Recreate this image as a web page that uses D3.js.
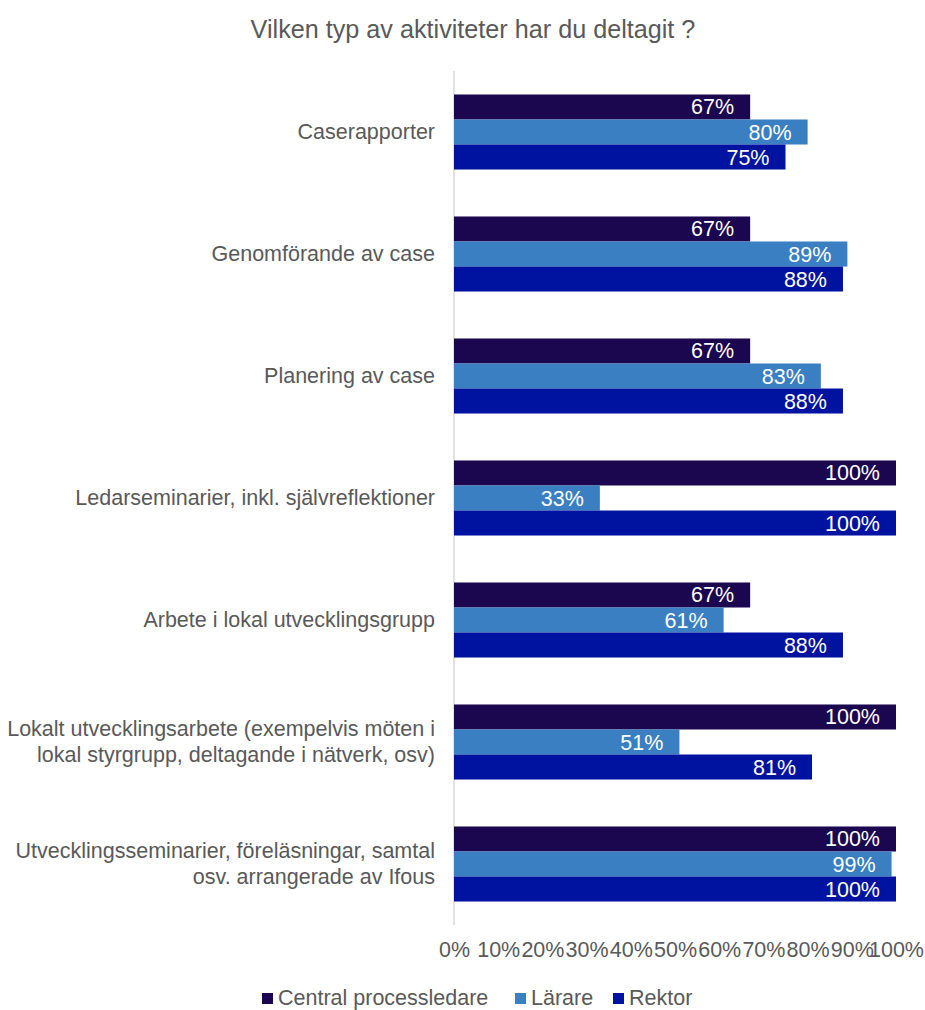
<!DOCTYPE html>
<html><head><meta charset="utf-8">
<script src="https://cdn.jsdelivr.net/npm/d3@7"></script>
<style>body{margin:0;background:#fff;font-family:"Liberation Sans",Arial,sans-serif;}</style>
</head><body><svg id="c" width="925" height="1010"></svg>
<script>
const title = "Vilken typ av aktiviteter har du deltagit ?";
const categories = [
  ["Caserapporter"],
  ["Genomförande av case"],
  ["Planering av case"],
  ["Ledarseminarier, inkl. självreflektioner"],
  ["Arbete i lokal utvecklingsgrupp"],
  ["Lokalt utvecklingsarbete (exempelvis möten i", "lokal styrgrupp, deltagande i nätverk, osv)"],
  ["Utvecklingsseminarier, föreläsningar, samtal", "osv. arrangerade av Ifous"]
];
const seriesNames = ["Central processledare", "Lärare", "Rektor"];
const central = [67, 67, 67, 100, 67, 100, 100];
const larare  = [80, 89, 83, 33, 61, 51, 99];
const rektor  = [75, 88, 88, 100, 88, 81, 100];
const tickValues = [0,10,20,30,40,50,60,70,80,90,100];
const colors = ["#1b0650", "#3a7fc1", "#0012a0"];

const series = [central, larare, rektor];
const FS = 21.5;
const svg = d3.select("#c");
const x = d3.scaleLinear().domain([0,100]).range([454, 896]);
const y = d3.scaleBand().domain(d3.range(categories.length)).range([71, 925]).paddingInner(0.385).paddingOuter(0.1925);
const ys = d3.scaleBand().domain(d3.range(3)).range([0, y.bandwidth()]);

svg.append("text").attr("x", 473).attr("y", 38).attr("text-anchor","middle")
  .attr("font-size", 25.2).attr("fill", "#595959").text(title);

// axis line
svg.append("line").attr("x1", x(0)).attr("x2", x(0)).attr("y1", 71).attr("y2", 925)
  .attr("stroke", "#d9d9d9").attr("stroke-width", 1.5);

// x tick labels
const xAxis = d3.axisBottom(x).tickValues(tickValues).tickFormat(d => d + "%").tickSize(0).tickPadding(0);
const gx = svg.append("g").attr("transform", "translate(0,942)").call(xAxis);
gx.select(".domain").remove();
gx.selectAll("text").attr("font-size", FS).attr("fill", "#595959").attr("font-family", "Liberation Sans, Arial, sans-serif");

// category labels
categories.forEach((lines, i) => {
  const cy = y(i) + y.bandwidth()/2;
  const lh = 26;
  const t = svg.append("text").attr("text-anchor", "end").attr("font-size", FS).attr("fill", "#595959");
  lines.forEach((ln, k) => {
    t.append("tspan").attr("x", 435).attr("y", cy + (k - (lines.length-1)/2) * lh + 7).text(ln);
  });
});

// bars
series.forEach((vals, s) => {
  const g = svg.append("g");
  g.selectAll("rect").data(vals).join("rect")
    .attr("x", x(0)).attr("y", (d,i) => y(i) + ys(s))
    .attr("width", d => x(d) - x(0)).attr("height", ys.bandwidth())
    .attr("fill", colors[s]);
  g.selectAll("text").data(vals).join("text")
    .attr("x", d => x(d) - 16).attr("y", (d,i) => y(i) + ys(s) + ys.bandwidth()/2 + 7.5)
    .attr("text-anchor", "end").attr("font-size", FS).attr("fill", "#fff")
    .text(d => d + "%");
});

// legend
const legX = [262, 515, 613];
seriesNames.forEach((n, s) => {
  svg.append("rect").attr("x", legX[s]).attr("y", 993).attr("width", 11).attr("height", 11).attr("fill", colors[s]);
  svg.append("text").attr("x", legX[s] + 16).attr("y", 1005).attr("font-size", FS).attr("fill", "#595959").text(n);
});
</script></body></html>
